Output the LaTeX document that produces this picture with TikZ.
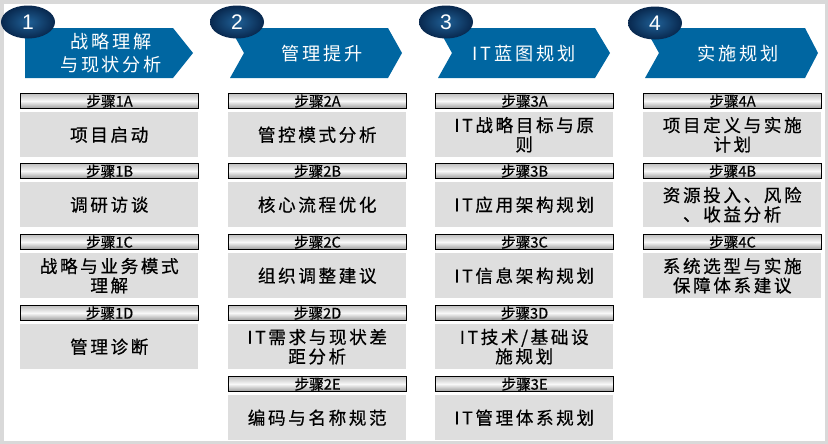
\documentclass[tikz,border=0pt]{standalone}
\usepackage{fontspec}
\setmainfont{Noto Sans CJK SC}
\newfontfamily\numfont{Liberation Sans}
\usepackage{tikz}
\usetikzlibrary{shapes.geometric}
\definecolor{phaseblue}{RGB}{0,102,161}
\definecolor{navyin}{RGB}{32,96,150}
\definecolor{navyout}{RGB}{8,40,78}
\definecolor{taskgray}{RGB}{222,222,222}
\definecolor{framegray}{RGB}{217,217,217}

\begin{document}
\begin{tikzpicture}[
    x=0.03cm, y=-0.03cm,
    phase/.style={text=white, align=center, font=\fontsize{15.5}{19}\selectfont\addfontfeature{LetterSpace=15}},
    badge/.style={ellipse, minimum width=1.62cm, minimum height=0.99cm, inner sep=0pt, inner color=navyin, outer color=navyout, text=white, font=\numfont\fontsize{18}{18}\selectfont},
    stephead/.style={draw=black, line width=0.9pt, minimum width=5.34cm, minimum height=0.45cm, inner sep=0pt, anchor=north west, top color=gray!50, bottom color=gray!80, middle color=gray!5, font=\fontsize{12.5}{12.5}\selectfont\addfontfeature{FakeBold=0.6}},
    task/.style={fill=taskgray, minimum width=5.34cm, minimum height=1.35cm, inner sep=0pt, anchor=north west, align=center, font=\fontsize{15}{16.5}\selectfont\addfontfeature{LetterSpace=15,FakeBold=0.6}}
]
    \useasboundingbox (0,0) rectangle (828,444);

    % Frame
    \draw[framegray, line width=0.105cm] (1.75,1.75) rectangle (826.25,442.25);

    % Phase arrows
    \fill[phaseblue] (25,28) -- (173,28) -- (193,53) -- (173,78) -- (25,78) -- cycle;
    \fill[phaseblue] (230,28) -- (388,28) -- (402,53) -- (388,78) -- (230,78) -- (244,53) -- cycle;
    \fill[phaseblue] (438,28) -- (595,28) -- (610,53) -- (595,78) -- (438,78) -- (452,53) -- cycle;
    \fill[phaseblue] (645,28) -- (805,28) -- (818,53) -- (805,78) -- (645,78) -- (659,53) -- cycle;

    \node[phase] (p1) at (111,53) {战略理解\\与现状分析};
    \node[phase] (p2) at (322,54) {管理提升};
    \node[phase] (p3) at (524,54) {IT蓝图规划};
    \node[phase] (p4) at (738,54) {实施规划};

    % Phase numbers
    \node[badge] (n1) at (28,22) {1};
    \node[badge] (n2) at (237,22) {2};
    \node[badge] (n3) at (446,22) {3};
    \node[badge] (n4) at (655,23) {4};

    % Column 1
    \node[stephead] (h1a) at (20,93) {步骤1A};
    \node[task]     (t1a) at (20,112) {项目启动};
    \node[stephead] (h1b) at (20,163) {步骤1B};
    \node[task]     (t1b) at (20,182) {调研访谈};
    \node[stephead] (h1c) at (20,234) {步骤1C};
    \node[task]     (t1c) at (20,253) {战略与业务模式\\理解};
    \node[stephead] (h1d) at (20,305) {步骤1D};
    \node[task]     (t1d) at (20,324) {管理诊断};

    % Column 2
    \node[stephead] (h2a) at (228,93) {步骤2A};
    \node[task]     (t2a) at (228,112) {管控模式分析};
    \node[stephead] (h2b) at (228,163) {步骤2B};
    \node[task]     (t2b) at (228,182) {核心流程优化};
    \node[stephead] (h2c) at (228,234) {步骤2C};
    \node[task]     (t2c) at (228,253) {组织调整建议};
    \node[stephead] (h2d) at (228,305) {步骤2D};
    \node[task]     (t2d) at (228,324) {IT需求与现状差\\距分析};
    \node[stephead] (h2e) at (228,376) {步骤2E};
    \node[task]     (t2e) at (228,395) {编码与名称规范};

    % Column 3
    \node[stephead] (h3a) at (435,93) {步骤3A};
    \node[task]     (t3a) at (435,112) {IT战略目标与原\\则};
    \node[stephead] (h3b) at (435,163) {步骤3B};
    \node[task]     (t3b) at (435,182) {IT应用架构规划};
    \node[stephead] (h3c) at (435,234) {步骤3C};
    \node[task]     (t3c) at (435,253) {IT信息架构规划};
    \node[stephead] (h3d) at (435,305) {步骤3D};
    \node[task]     (t3d) at (435,324) {IT技术/基础设\\施规划};
    \node[stephead] (h3e) at (435,376) {步骤3E};
    \node[task]     (t3e) at (435,395) {IT管理体系规划};

    % Column 4
    \node[stephead] (h4a) at (643,93) {步骤4A};
    \node[task]     (t4a) at (643,112) {项目定义与实施\\计划};
    \node[stephead] (h4b) at (643,163) {步骤4B};
    \node[task]     (t4b) at (643,182) {资源投入、风险\\、收益分析};
    \node[stephead] (h4c) at (643,234) {步骤4C};
    \node[task]     (t4c) at (643,253) {系统选型与实施\\保障体系建议};
\end{tikzpicture}
\end{document}
